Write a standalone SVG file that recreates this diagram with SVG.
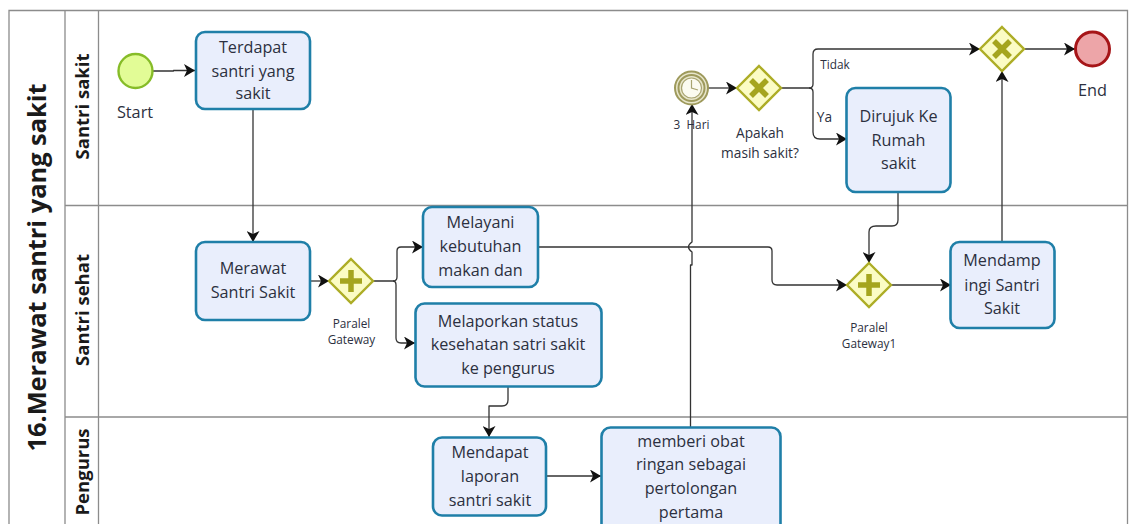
<svg xmlns="http://www.w3.org/2000/svg" width="1133" height="524" viewBox="0 0 1133 524">
<style>
text{font-family:"Open Sans","Noto Sans",sans-serif;fill:#2c3040;text-anchor:middle}
.t{font-size:16.2px}
.s{font-size:11.8px}
.l{font-size:13.7px}
.m{font-size:16.3px}
.h{font-weight:700;fill:#1a1a1a}
.box{fill:#e9eefc;stroke:#1f7fa8;stroke-width:2.6}
.gw{fill:#fbfcc4;stroke:#adad26;stroke-width:2.4}
.mk{fill:none;stroke:#a5a51e;stroke-width:5.5}
.lane{fill:none;stroke:#8c8c8c;stroke-width:1.3}
.c{fill:none;stroke:#333;stroke-width:1.3;stroke-linejoin:round}
</style>
<defs>
<marker id="a" markerUnits="userSpaceOnUse" markerWidth="12" markerHeight="13" refX="11" refY="6.500" orient="auto"><path d="M0 0L11 6.500L0 13L3 6.500Z" fill="#111"/></marker>
</defs>
<rect width="1133" height="524" fill="#fff"/>
<g id="pool">
<path class="lane" d="M9 524V10.500H1127.500V524M65 10.500V524M98.500 10.500V524M65 205.500H1127.500M65 417H1127.500"/>
<text class="h" transform="translate(46 267.500) rotate(-90)" font-size="25.400">16.Merawat santri yang sakit</text>
<text class="h" transform="translate(88.500 106.500) rotate(-90)" font-size="18.500">Santri sakit</text>
<text class="h" transform="translate(88.500 310) rotate(-90)" font-size="18.500">Santri sehat</text>
<text class="h" transform="translate(88.500 472) rotate(-90)" font-size="18.500">Pengurus</text>
</g>
<g id="connectors">
<path class="c" marker-end="url(#a)" d="M153 71H173.500V70.500H195"/>
<path class="c" marker-end="url(#a)" d="M253 110V242"/>
<path class="c" marker-end="url(#a)" d="M310 281H329"/>
<path class="c" marker-end="url(#a)" d="M373 281H393Q397 281 397 277V251Q397 247 401 247H423"/>
<path class="c" marker-end="url(#a)" d="M393 281Q396 281 396 285V338Q396 343 401 343H415"/>
<path class="c" marker-end="url(#a)" d="M508 387V400Q508 406 502 406H489V437"/>
<path class="c" marker-end="url(#a)" d="M546 476H601"/>
<path class="c" marker-end="url(#a)" d="M690.500 427V265H692V252Q685 247 692 242V104"/>
<path class="c" marker-end="url(#a)" d="M538 247H768Q772 247 772 251V280Q772 285 777 285H847"/>
<path class="c" marker-end="url(#a)" d="M708 88H737"/>
<path class="c" marker-end="url(#a)" d="M781 88H809Q813 88 813 84V54Q813 49 818 49H980"/>
<path class="c" marker-end="url(#a)" d="M809 88Q813 88 813 92V132Q813 139 820 139H847"/>
<path class="c" marker-end="url(#a)" d="M898 192V220Q898 226 892 226H876Q869 226 869 232V263"/>
<path class="c" marker-end="url(#a)" d="M891 285H951"/>
<path class="c" marker-end="url(#a)" d="M1002 242V71"/>
<path class="c" marker-end="url(#a)" d="M1025 49H1075"/>
</g>
<g id="start"><circle cx="135.500" cy="71" r="17" fill="#e2fc96" stroke="#86bc28" stroke-width="2.4"/><text class="m" x="135" y="118">Start</text></g>
<g id="terdapat"><rect class="box" x="196" y="32" width="114" height="77" rx="9"/><text class="t" x="253" y="53">Terdapat</text><text class="t" x="253" y="77">santri yang</text><text class="t" x="253" y="99">sakit</text></g>
<g id="merawat"><rect class="box" x="196" y="242" width="114" height="78" rx="9"/><text class="t" x="253" y="274">Merawat</text><text class="t" x="253" y="298">Santri Sakit</text></g>
<g id="gw1"><path class="gw" d="M351 259L373 281L351 303L329 281Z"/><path class="mk" d="M351 270V292M340 281H362"/><text class="s" x="351.500" y="328">Paralel</text><text class="s" x="351.500" y="344">Gateway</text></g>
<g id="melayani"><rect class="box" x="423" y="207" width="115" height="80" rx="9"/><text class="t" x="480.500" y="228">Melayani</text><text class="t" x="480.500" y="252">kebutuhan</text><text class="t" x="480.500" y="276">makan dan</text></g>
<g id="melaporkan"><rect class="box" x="415.500" y="303.500" width="186" height="83" rx="9"/><text class="t" x="508" y="327">Melaporkan status</text><text class="t" x="508" y="350">kesehatan satri sakit</text><text class="t" x="508" y="374">ke pengurus</text></g>
<g id="mendapat"><rect class="box" x="433" y="437.500" width="113" height="78" rx="9"/><text class="t" x="490" y="458">Mendapat</text><text class="t" x="490" y="482">laporan</text><text class="t" x="490" y="506">santri sakit</text></g>
<g id="memberi"><rect class="box" x="601.500" y="427.500" width="179" height="110" rx="9"/><text class="t" x="691" y="447">memberi obat</text><text class="t" x="691" y="470">ringan sebagai</text><text class="t" x="691" y="494">pertolongan</text><text class="t" x="691" y="518">pertama</text></g>
<g id="timer"><circle cx="691.500" cy="88" r="16.500" fill="#e8e6cb" stroke="#9e9a5c" stroke-width="2"/><circle cx="691.500" cy="88" r="13" fill="none" stroke="#9e9a5c" stroke-width="2"/><circle cx="691.500" cy="88" r="10" fill="#fbfbf0" stroke="#a8a470" stroke-width="1.200"/><path d="M691.500 80V88L698 90" fill="none" stroke="#a8a470" stroke-width="1.200"/><text class="s" x="691.500" y="129">3&#160; Hari</text></g>
<g id="gw2"><path class="gw" d="M759 66L781 88L759 110L737 88Z"/><path class="mk" d="M751 80L767 96M767 80L751 96"/><text class="l" x="760" y="138">Apakah</text><text class="l" x="760" y="158">masih sakit?</text></g>
<g id="dirujuk"><rect class="box" x="846.500" y="88" width="104" height="104" rx="9"/><text class="t" x="898.500" y="122">Dirujuk Ke</text><text class="t" x="898.500" y="146">Rumah</text><text class="t" x="898.500" y="169">sakit</text></g>
<g id="gw3"><path class="gw" d="M869 263L891 285L869 307L847 285Z"/><path class="mk" d="M869 274V296M858 285H880"/><text class="s" x="869" y="332">Paralel</text><text class="s" x="869" y="348">Gateway1</text></g>
<g id="mendampingi"><rect class="box" x="950.500" y="242" width="104" height="86" rx="9"/><text class="t" x="1002" y="266">Mendamp</text><text class="t" x="1002" y="291">ingi Santri</text><text class="t" x="1002" y="314">Sakit</text></g>
<g id="gw4"><path class="gw" d="M1002 27L1024 49L1002 71L980 49Z"/><path class="mk" d="M994 41L1010 57M1010 41L994 57"/></g>
<g id="end"><circle cx="1092.500" cy="49" r="17" fill="#eda5a8" stroke="#a61518" stroke-width="3"/><text class="m" x="1092.500" y="96">End</text></g>
<text class="s" x="835" y="69">Tidak</text>
<text class="l" x="824.500" y="122">Ya</text>
</svg>
